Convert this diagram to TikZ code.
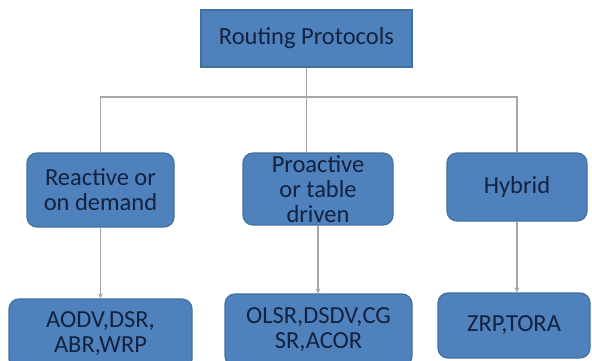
\documentclass[tikz,border=0pt]{standalone}
\usepackage{fontspec}
\setmainfont{Carlito}
\usetikzlibrary{arrows.meta}
\definecolor{boxfill}{HTML}{4F81BD}
\definecolor{boxline}{HTML}{41719C}
\definecolor{txtcol}{HTML}{13223F}
\definecolor{conncol}{HTML}{A6A6A6}
\begin{document}
\begin{tikzpicture}[x=1pt,y=1pt,
  box/.style={draw=boxline, fill=boxfill, line width=1.2pt, rounded corners=10pt,
    align=center, text=txtcol, font=\fontsize{24.5}{25}\selectfont, inner sep=0pt},
  conn/.style={draw=conncol, line width=1.3pt},
  arr/.style={conn, -{Stealth[length=5pt,width=5pt]}}]
\useasboundingbox (0,0) rectangle (592,360);
\fill[white] (0,0) rectangle (592,360);
\node[box, rounded corners=0pt, minimum width=211pt, minimum height=57pt] (root) at (306.5,321.5) {Routing Protocols};
\node[box, minimum width=147pt, minimum height=74pt] (left) at (100.5,170) {Reactive or\\on demand};
\node[box, minimum width=150pt, minimum height=72pt] (mid) at (318,171) {Proactive\\or table\\driven};
\node[box, minimum width=140pt, minimum height=68pt] (right) at (517,173) {Hybrid};
\node[box, minimum width=183pt, minimum height=70pt] (bl) at (100.5,26) {AODV,DSR,\\ABR,WRP};
\node[box, minimum width=187pt, minimum height=72pt] (bm) at (318.5,30) {OLSR,DSDV,CG\\SR,ACOR};
\node[box, minimum width=152pt, minimum height=65pt] (br) at (514,34.5) {ZRP,TORA};
\coordinate (bus) at (0,263);
\draw[conn] (root.south) -- (root.south |- mid.north);
\draw[conn] (left.north) -- (left.north |- bus) -- (right.north |- bus) -- (right.north);
\draw[arr] (left.south) -- (left.south |- bl.north);
\draw[arr] (mid.south) -- (mid.south |- bm.north);
\draw[arr] (right.south) -- (right.south |- br.north);
\end{tikzpicture}
\end{document}
